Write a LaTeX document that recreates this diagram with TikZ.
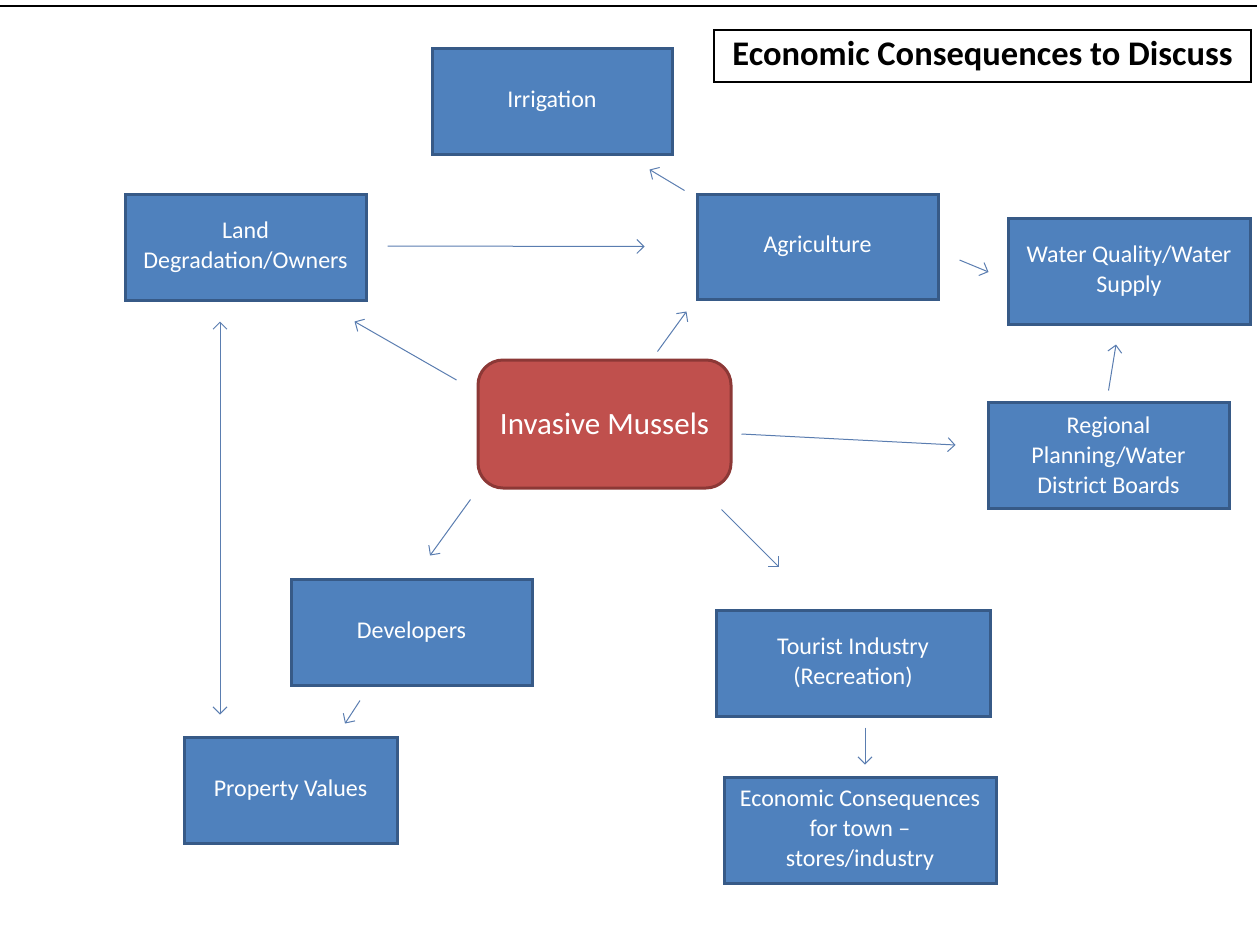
\documentclass[tikz,border=0pt]{standalone}
\usepackage{fontspec}
\setmainfont{Carlito}
\usepackage{tikz}
\usetikzlibrary{arrows.meta,calc}
\definecolor{bfill}{HTML}{4F81BD}
\definecolor{bline}{HTML}{375A87}
\definecolor{rfill}{HTML}{C0504D}
\definecolor{rline}{HTML}{8C3836}
\definecolor{lcol}{HTML}{5A7DB0}
\tikzset{
 box/.style={draw=bline,fill=bfill,line width=3pt,align=center,text=white,
   minimum width=241pt,minimum height=106pt,inner sep=4pt,
   font=\fontsize{24}{30}\selectfont},
 hubbox/.style={box,draw=rline,fill=rfill,rounded corners=25pt,
   minimum width=253pt,minimum height=128pt,font=\fontsize{31}{37}\selectfont},
 titlebox/.style={draw=black,line width=1.2pt,fill=white,minimum width=537pt,
   minimum height=52pt,inner sep=2pt,font=\fontsize{34.5}{40}\selectfont\bfseries},
 arrow/.style={-{Straight Barb[length=7pt,width=14pt]},line width=1pt,draw=lcol}
}
\begin{document}
\begin{tikzpicture}[x=1pt,y=-1pt]
 \useasboundingbox (0,0) rectangle (1257,940);
 \draw[line width=2pt] (0,6) -- (1257,6);
 \node[titlebox] (title) at (982.5,56) {Economic Consequences to Discuss};
 \node[box,minimum width=240pt] (irr) at (552,101) {Irrigation};
 \node[box] (land) at (245.5,247) {Land\\Degradation/Owners};
 \node[box,minimum height=105pt] (agri) at (817.5,246.5) {Agriculture};
 \node[box,minimum width=242pt] (water) at (1129,271) {Water Quality/Water\\Supply};
 \node[hubbox] (mus) at (604.5,424) {Invasive Mussels};
 \node[box] (reg) at (1108.5,455) {Regional\\Planning/Water\\District Boards};
 \node[box] (dev) at (411.5,632) {Developers};
 \node[box,minimum width=274pt] (tour) at (853,663) {Tourist Industry\\(Recreation)};
 \node[box,minimum width=213pt] (prop) at (290.5,790) {Property Values};
 \node[box,minimum width=272pt] (econ) at (860,830) {Economic Consequences\\for town --\\stores/industry};
 % connectors
 \draw[arrow] ($(land.east)+(20,-1)$) -- ($(agri.west)+(-51,0)$);
 \draw[arrow] ($(agri.north west)+(-11,-2)$) -- ($(irr.south east)+(-24,14)$);
 \draw[arrow] ($(mus.north)+(53,-7)$) -- ($(agri.south west)+(-9,11)$);
 \draw[arrow] ($(mus.west)+(-20,-44)$) -- ($(land.south east)+(-13,20)$);
 \draw[arrow] ($(agri.east)+(20,13.5)$) -- ($(water.west)+(-18,1)$);
 \draw[arrow] ($(mus.east)+(9,10)$) -- ($(reg.west)+(-31,-10)$);
 \draw[arrow] ($(reg.north)+(0,-10)$) -- ($(water.south)+(-13,19)$);
 \draw[arrow] ($(mus.south west)+(-6,10)$) -- ($(dev.north)+(18.5,-22)$);
 \draw[arrow] ($(mus.south east)+(-11,20)$) -- ($(tour.north west)+(64,-42)$);
 \draw[arrow] ($(dev.south)+(-51.5,14)$) -- ($(prop.north)+(54.5,-12)$);
 \draw[arrow] ($(tour.south)+(12,10)$) -- ($(econ.north)+(5,-11)$);
 \draw[arrow,{Straight Barb[length=7pt,width=14pt]}-{Straight Barb[length=7pt,width=14pt]}]
   ($(land.south)+(-25.5,20)$) -- ($(prop.north)+(-70.5,-21)$);
\end{tikzpicture}
\end{document}
